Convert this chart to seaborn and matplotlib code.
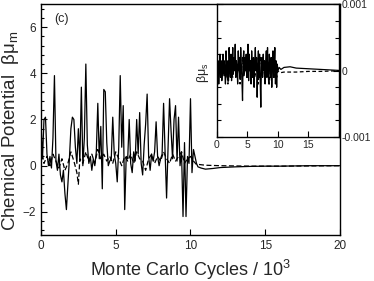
import matplotlib
matplotlib.use("Agg")
import matplotlib.pyplot as plt
from matplotlib.ticker import MultipleLocator
import numpy as np
import pandas as pd
import seaborn as sns

sns.set_theme(style="ticks")
plt.rcParams['font.family'] = ['Liberation Sans', 'DejaVu Sans']
plt.rcParams['mathtext.fontset'] = 'custom'
plt.rcParams['mathtext.rm'] = 'Liberation Sans'
plt.rcParams['mathtext.it'] = 'Liberation Sans'

# main panel: beta*mu_m vs MC cycles (in 10^3)
solid_x = [0.0, 0.1, 0.2, 0.3, 0.4, 0.5, 0.6, 0.7, 0.8, 0.9,
           1.0, 1.1, 1.2, 1.3, 1.4, 1.5, 1.6, 1.7, 1.8, 1.9,
           2.0, 2.1, 2.2, 2.3, 2.4, 2.5, 2.6, 2.7, 2.8, 2.9,
           3.0, 3.1, 3.2, 3.3, 3.4, 3.5, 3.6, 3.7, 3.8, 3.9,
           4.0, 4.1, 4.2, 4.3, 4.4, 4.5, 4.6, 4.7, 4.8, 4.9,
           5.0, 5.1, 5.2, 5.3, 5.4, 5.5, 5.6, 5.7, 5.8, 5.9,
           6.0, 6.1, 6.2, 6.3, 6.4, 6.5, 6.6, 6.7, 6.8, 6.9,
           7.0, 7.1, 7.2, 7.3, 7.4, 7.5, 7.6, 7.7, 7.8, 7.9,
           8.0, 8.1, 8.2, 8.3, 8.4, 8.5, 8.6, 8.7, 8.8, 8.9,
           9.0, 9.1, 9.2, 9.3, 9.4, 9.5, 9.6, 9.7, 9.8, 9.9,
           10.0, 10.1, 10.2, 10.3, 10.4, 10.5, 10.7, 11.0, 11.5, 12.0,
           13.0, 14.0, 15.0, 16.0, 17.0, 18.0, 19.0, 20.0]
solid_y = [1.9, 0.3, 2.0, 2.1, 0.5, 0.0, 0.4, -0.1, 1.2, 3.9,
           0.2, -0.2, 0.5, -0.4, -0.7, -0.2, -1.2, -1.9, -0.8, 0.3,
           1.6, 2.1, 2.0, 0.8, 0.1, 1.6, 0.2, 3.4, 0.0, 1.2,
           4.4, 0.9, 0.1, 0.4, -0.2, 0.3, 0.0, 0.6, 2.7, 0.3,
           1.7, -1.0, 3.3, 3.2, 1.0, 0.0, 0.2, 0.3, 2.1, 0.5,
           0.1, -0.7, 0.8, 3.9, 0.8, 2.6, -1.9, 0.4, 0.3, 2.0,
           0.1, -0.3, 0.6, 0.2, 2.0, 0.5, 2.3, 0.1, -0.4, 0.9,
           1.8, 3.1, 0.4, -0.2, 0.5, 0.2, 0.6, 1.9, 0.4, 0.0,
           0.3, 0.5, 2.7, 0.6, -1.4, 0.8, 2.9, 1.5, 0.3, 2.0,
           2.6, 0.2, 2.1, 0.0, 0.6, -2.2, 1.0, -2.2, 0.4, 0.1,
           2.9, -0.3, 0.7, 0.4, 0.1, -0.05, -0.1, -0.15, -0.12, -0.08,
           -0.05, -0.03, -0.02, -0.02, -0.01, 0.0, 0.0, 0.0]

dash_x = [0.0, 0.2, 0.4, 0.6, 0.8, 1.0, 1.2, 1.4, 1.6, 1.8,
          2.0, 2.2, 2.4, 2.5, 2.6, 2.8, 3.0, 3.2, 3.4, 3.6,
          3.8, 4.0, 4.2, 4.4, 4.6, 4.8, 5.0, 5.2, 5.4, 5.6,
          5.8, 6.0, 6.2, 6.4, 6.6, 6.8, 7.0, 7.2, 7.4, 7.6,
          7.8, 8.0, 8.2, 8.4, 8.6, 8.8, 9.0, 9.2, 9.4, 9.6,
          9.8, 10.0, 10.2, 10.4, 10.6, 11.0, 12.0, 14.0, 16.0, 18.0, 20.0]
dash_y = [0.8, 0.1, 0.4, 0.0, 0.5, 0.2, -0.1, 0.3, -0.2, 0.1,
          0.6, 0.2, -0.3, -0.8, 0.3, 0.1, 0.6, 0.2, 0.5, 0.1,
          0.7, 0.3, 0.5, 0.2, 0.4, 0.1, 0.6, 0.3, 0.0, 0.4,
          0.2, 0.5, 0.1, 0.6, 0.3, 0.2, -0.2, 0.3, 0.5, 0.1,
          0.4, 0.2, 0.6, 0.3, 0.1, 0.5, 0.2, 0.4, 0.6, 0.1,
          0.3, 0.4, 0.2, 0.05, 0.05, 0.02, 0.0, -0.02, -0.02, -0.01, 0.0]

# inset: beta*mu_s, values in units of 1e-4
in_solid_x = [0.0, 0.1, 0.2, 0.3, 0.4, 0.5, 0.6, 0.7, 0.8, 0.9,
              1.0, 1.1, 1.2, 1.3, 1.4, 1.5, 1.6, 1.7, 1.8, 1.9,
              2.0, 2.1, 2.2, 2.3, 2.4, 2.5, 2.6, 2.7, 2.8, 2.9,
              3.0, 3.1, 3.2, 3.3, 3.4, 3.5, 3.6, 3.7, 3.8, 3.9,
              4.0, 4.1, 4.2, 4.3, 4.4, 4.5, 4.6, 4.7, 4.8, 4.9,
              5.0, 5.1, 5.2, 5.3, 5.4, 5.5, 5.6, 5.7, 5.8, 5.9,
              6.0, 6.1, 6.2, 6.3, 6.4, 6.5, 6.6, 6.7, 6.8, 6.9,
              7.0, 7.1, 7.2, 7.3, 7.4, 7.5, 7.6, 7.7, 7.8, 7.9,
              8.0, 8.1, 8.2, 8.3, 8.4, 8.5, 8.6, 8.7, 8.8, 8.9,
              9.0, 9.1, 9.2, 9.3, 9.4, 9.5, 9.6, 9.7, 9.8, 9.9,
              10.0, 10.2, 10.5, 11.0, 12.0, 13.0, 14.0, 15.0, 17.0, 19.0, 20.0]
in_solid_e4 = [-4.5, -1, 1.5, -2, 0.5, 2.5, -1, 1.5, -1.5, 0,
               2.5, -0.5, 1.5, 0, -2, 3, 0.5, -1, 1.5, -1.5,
               3.5, 0.5, -1, 2.5, -1.5, 1, 3.5, -0.5, 2, 0,
               4, -1, 1.5, 0.5, -2, 3, 0, 2, -1, 3.5,
               1, -1.5, -4.5, 1.5, 3, -0.5, 2, 0, 2.5, -1,
               1, 4, -1.5, 2.5, 0, 1.5, -2, 3, 0.5, -1,
               2, -2.5, 1, 3.5, 0, 2, -4, 0.5, 3, -1,
               2.5, -1.5, -5.5, 1, 2, -1, 2.5, 0, 1.5, -2,
               1, 3, -1, 3.5, 0, -2, 2.5, 1, -1, 2,
               -2.5, 1.5, 3, -1, 1, 3.5, -2, 1.5, -2.5, 1,
               0, 0.5, 0.2, 0.5, 0.6, 0.4, 0.35, 0.3, 0.2, 0.1, 0.05]
in_dash_x = [0.0, 0.2, 0.4, 0.6, 0.8, 1.0, 1.2, 1.4, 1.6, 1.8,
             2.0, 2.2, 2.4, 2.6, 2.8, 3.0, 3.2, 3.4, 3.6, 3.8,
             4.0, 4.2, 4.4, 4.6, 4.8, 5.0, 5.2, 5.4, 5.6, 5.8,
             6.0, 6.2, 6.4, 6.6, 6.8, 7.0, 7.2, 7.4, 7.6, 7.8,
             8.0, 8.2, 8.4, 8.6, 8.8, 9.0, 9.2, 9.4, 9.6, 9.8,
             10.0, 10.4, 11.0, 13.0, 15.0, 17.0, 20.0]
in_dash_e4 = [-3, -1, 1, -1, 0, 2, -1, 1, 0, -2,
              1, 2, 0, -1, 1, 2, -1, 0, 1, -2,
              0, 2, -1, 1, 0, -1, 2, 0, 1, -1,
              2, -1, 0, 1, -2, 1, 2, -1, 0, 1,
              -1, 2, 0, -2, 1, 0, 2, -1, 1, -1,
              0, -0.3, -0.2, -0.2, -0.1, -0.1, 0.0]

fig = plt.figure(figsize=(3.74, 2.81), dpi=100)
ax = fig.add_axes([0.1096, 0.1637, 0.7995, 0.8221])

main_df = pd.concat([
    pd.DataFrame({"x": solid_x, "y": solid_y, "run": "a"}),
    pd.DataFrame({"x": dash_x, "y": dash_y, "run": "b"}),
])
sns.lineplot(data=main_df, x="x", y="y", style="run", dashes=[(None, None), (4, 2)],
             color="black", lw=0.9, legend=False, ax=ax, estimator=None, sort=False)

ax.set_xlim(0, 20)
ax.set_ylim(-3, 7)
ax.xaxis.set_major_locator(MultipleLocator(5))
ax.yaxis.set_major_locator(MultipleLocator(2))
ax.yaxis.set_minor_locator(MultipleLocator(0.4))
ax.tick_params(which="both", direction="in", labelsize=8.5, color="black",
               top=False, right=False)
ax.tick_params(which="major", length=4.5, width=0.8)
ax.tick_params(which="minor", length=2.5, width=0.8)
for s in ax.spines.values():
    s.set_linewidth(1.0)
    s.set_color("black")
ax.set_xlabel("Monte Carlo Cycles / $10^3$", fontsize=13)
ax.set_ylabel(r"Chemical Potential  $\beta\mu_m$", fontsize=13.5)
ax.xaxis.set_label_coords(0.498, -0.097)
ax.yaxis.set_label_coords(-0.066, 0.45)
ax.text(0.045, 0.935, "(c)", transform=ax.transAxes, fontsize=9, va="center")

ins = fig.add_axes([0.580, 0.5125, 0.326, 0.4715])
in_df = pd.concat([
    pd.DataFrame({"x": in_solid_x, "y": np.array(in_solid_e4) * 1e-4, "run": "a"}),
    pd.DataFrame({"x": in_dash_x, "y": np.array(in_dash_e4) * 1e-4, "run": "b"}),
])
sns.lineplot(data=in_df, x="x", y="y", style="run", dashes=[(None, None), (3, 2)],
             color="black", lw=0.9, legend=False, ax=ins, estimator=None, sort=False)
ins.set_xlim(0, 20)
ins.set_ylim(-0.001, 0.001)
ins.set_xticks([0, 5, 10, 15, 20])
ins.set_xticklabels(["0", "5", "10", "15", ""])
ins.set_yticks([-0.001, 0, 0.001])
ins.set_yticklabels(["-0.001", "0", "0.001"])
ins.yaxis.set_minor_locator(MultipleLocator(0.00025))
ins.yaxis.tick_right()
ins.tick_params(which="both", direction="in", labelsize=7.5, left=True, right=True,
                labelleft=False, labelright=True, top=False, color="black", pad=2)
ins.tick_params(which="major", length=4, width=0.8)
ins.tick_params(which="minor", length=3, width=0.8)
for s in ins.spines.values():
    s.set_linewidth(1.0)
    s.set_color("black")
ins.set_xlabel("")
ins.set_ylabel("")
ins.text(-0.115, 0.485, r"$\beta\mu_s$", transform=ins.transAxes, rotation=90,
         fontsize=9, va="center", ha="center")
ins.set_facecolor("white")

fig.savefig("out.png", dpi=100)
